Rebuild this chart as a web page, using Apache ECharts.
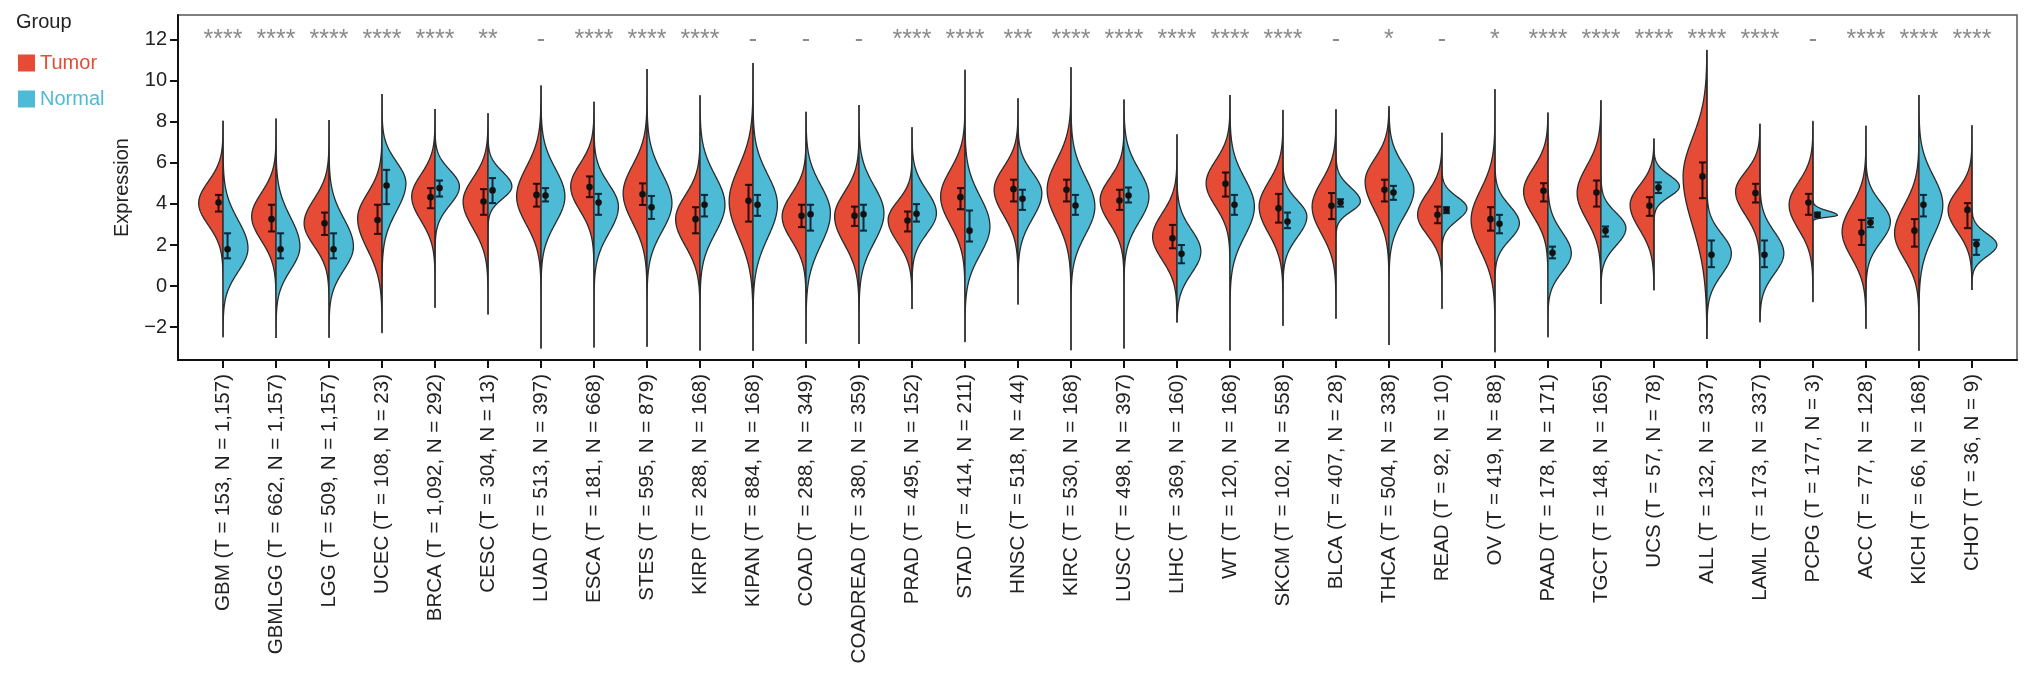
<!DOCTYPE html>
<html>
<head>
<meta charset="utf-8">
<title>Expression by cancer type</title>
<script src="https://cdn.jsdelivr.net/npm/echarts@6/dist/echarts.min.js"></script>
<style>
    html, body { margin: 0; padding: 0; background: #fff; }
    #main { width: 2032px; height: 682px; }
</style>
</head>
<body>
<div id="main"></div>
<script>
// 类别与显著性
var categories = ["GBM (T = 153, N = 1,157)", "GBMLGG (T = 662, N = 1,157)", "LGG (T = 509, N = 1,157)", "UCEC (T = 108, N = 23)",
    "BRCA (T = 1,092, N = 292)", "CESC (T = 304, N = 13)", "LUAD (T = 513, N = 397)", "ESCA (T = 181, N = 668)",
    "STES (T = 595, N = 879)", "KIRP (T = 288, N = 168)", "KIPAN (T = 884, N = 168)", "COAD (T = 288, N = 349)",
    "COADREAD (T = 380, N = 359)", "PRAD (T = 495, N = 152)", "STAD (T = 414, N = 211)", "HNSC (T = 518, N = 44)",
    "KIRC (T = 530, N = 168)", "LUSC (T = 498, N = 397)", "LIHC (T = 369, N = 160)", "WT (T = 120, N = 168)",
    "SKCM (T = 102, N = 558)", "BLCA (T = 407, N = 28)", "THCA (T = 504, N = 338)", "READ (T = 92, N = 10)",
    "OV (T = 419, N = 88)", "PAAD (T = 178, N = 171)", "TGCT (T = 148, N = 165)", "UCS (T = 57, N = 78)",
    "ALL (T = 132, N = 337)", "LAML (T = 173, N = 337)", "PCPG (T = 177, N = 3)", "ACC (T = 77, N = 128)",
    "KICH (T = 66, N = 168)", "CHOT (T = 36, N = 9)"];
var sigLabels = ["****", "****", "****", "****", "****", "**", "-", "****", "****", "****", "-", "-", "-", "****", "****", "***",
    "****", "****", "****", "****", "****", "-", "*", "-", "*", "****", "****", "****", "****", "****", "-", "****", "****", "****"];
var yTicks = [-2, 0, 2, 4, 6, 8, 10, 12];

// 均值和误差线
var tumorMean = [4.07, 3.26, 3.06, 3.22, 4.33, 4.12, 4.44, 4.82, 4.47, 3.26, 4.15, 3.42, 3.42, 3.19, 4.33, 4.72, 4.69, 4.17, 2.33, 4.98, 3.79, 3.91, 4.69, 3.47, 3.26, 4.64, 4.56, 3.91, 5.34, 4.53, 4.07, 2.61, 2.70, 3.71];
var tumorLow = [3.63, 2.66, 2.49, 2.54, 3.79, 3.47, 3.87, 4.33, 3.95, 2.57, 3.14, 2.87, 2.93, 2.66, 3.74, 4.12, 4.12, 3.71, 1.84, 4.36, 3.09, 3.26, 4.12, 3.06, 2.70, 4.12, 3.87, 3.42, 4.28, 4.07, 3.47, 2.00, 1.92, 2.82];
var tumorHigh = [4.44, 3.96, 3.58, 3.96, 4.77, 4.72, 4.98, 5.34, 5.00, 3.84, 4.93, 3.96, 3.87, 3.63, 4.77, 5.18, 5.18, 4.69, 2.98, 5.53, 4.49, 4.53, 5.18, 3.87, 3.84, 5.01, 5.14, 4.33, 6.02, 4.98, 4.49, 3.22, 3.26, 4.04];
var normalMean = [1.79, 1.79, 1.79, 4.90, 4.77, 4.66, 4.41, 4.07, 3.84, 3.96, 3.96, 3.50, 3.50, 3.52, 2.70, 4.25, 3.92, 4.41, 1.57, 3.96, 3.14, 4.07, 4.56, 3.71, 3.03, 1.62, 2.70, 4.80, 1.52, 1.52, 3.47, 3.09, 3.96, 2.04];
var normalLow = [1.35, 1.35, 1.35, 3.99, 4.36, 4.04, 4.12, 3.47, 3.27, 3.39, 3.42, 2.70, 2.70, 3.14, 2.17, 3.71, 3.47, 4.07, 1.11, 3.47, 2.82, 3.87, 4.20, 3.55, 2.57, 1.35, 2.41, 4.53, 0.92, 0.92, 3.35, 2.87, 3.39, 1.52];
var normalHigh = [2.57, 2.57, 2.57, 5.66, 5.14, 5.26, 4.77, 4.49, 4.39, 4.44, 4.44, 3.96, 3.96, 3.99, 3.68, 4.69, 4.44, 4.80, 2.00, 4.44, 3.58, 4.23, 4.88, 3.84, 3.47, 1.92, 2.90, 5.05, 2.22, 2.22, 3.58, 3.30, 4.44, 2.25];

// 小提琴形状：峰值位置、半宽、下/上展宽，以及整体范围
var tumorPeak = [4.04, 3.39, 3.06, 3.30, 4.36, 4.12, 4.36, 4.85, 4.52, 3.26, 4.12, 3.39, 3.39, 3.22, 4.36, 4.69, 4.69, 4.20, 2.41, 5.01, 3.87, 3.87, 5.09, 3.47, 3.22, 4.61, 4.53, 3.96, 5.34, 4.61, 3.96, 2.65, 2.57, 3.71];
var tumorWidth = [0.46, 0.46, 0.47, 0.46, 0.44, 0.47, 0.46, 0.44, 0.45, 0.46, 0.45, 0.45, 0.46, 0.45, 0.46, 0.45, 0.45, 0.45, 0.46, 0.45, 0.45, 0.45, 0.45, 0.46, 0.45, 0.46, 0.45, 0.45, 0.45, 0.46, 0.45, 0.45, 0.46, 0.45];
var tumorSdLow = [1.07, 1.17, 1.10, 1.50, 1.17, 1.30, 1.36, 1.17, 1.43, 1.30, 1.70, 1.17, 1.34, 1.10, 1.36, 1.24, 1.50, 1.14, 1.14, 1.14, 1.30, 1.33, 1.40, 0.98, 1.50, 1.20, 1.30, 1.20, 2.40, 1.14, 1.20, 1.27, 1.24, 1.07];
var tumorSdHigh = [1.05, 1.14, 1.17, 1.20, 1.07, 1.14, 1.43, 1.10, 1.36, 1.16, 1.66, 1.10, 1.17, 0.91, 1.30, 1.10, 1.43, 1.04, 1.14, 1.10, 1.20, 1.24, 1.10, 1.07, 1.46, 1.14, 1.30, 0.94, 1.88, 0.94, 1.10, 1.27, 1.37, 0.98];
var normalPeak = [1.84, 1.92, 1.92, 5.01, 4.85, 4.85, 4.36, 3.87, 4.03, 3.96, 3.96, 3.55, 3.55, 3.55, 2.90, 4.53, 3.87, 4.36, 1.68, 3.87, 3.39, 4.12, 4.69, 3.79, 3.06, 1.59, 2.82, 4.85, 1.60, 1.60, 3.45, 3.14, 3.96, 2.00];
var normalWidth = [0.47, 0.45, 0.46, 0.45, 0.46, 0.45, 0.45, 0.46, 0.47, 0.47, 0.46, 0.46, 0.47, 0.46, 0.47, 0.45, 0.45, 0.47, 0.45, 0.46, 0.45, 0.46, 0.47, 0.47, 0.46, 0.44, 0.47, 0.48, 0.46, 0.45, 0.46, 0.46, 0.45, 0.47];
var normalSdLow = [1.14, 1.14, 1.14, 1.36, 0.91, 0.60, 1.30, 1.30, 1.36, 1.40, 1.60, 1.56, 1.43, 1.00, 1.37, 1.25, 1.36, 1.24, 1.07, 1.43, 1.00, 0.50, 1.30, 0.60, 0.81, 0.91, 0.85, 0.50, 1.04, 1.00, 0.09, 1.00, 1.53, 0.55];
var normalSdHigh = [1.37, 1.43, 1.37, 1.04, 0.80, 0.72, 1.35, 1.10, 1.46, 1.43, 1.46, 1.36, 1.33, 1.10, 1.46, 1.00, 1.43, 1.30, 1.07, 1.37, 0.78, 0.68, 1.17, 0.56, 0.85, 1.04, 0.75, 0.55, 0.94, 1.04, 0.22, 0.94, 1.40, 0.55];
var violinMin = [-2.47, -2.50, -2.50, -2.27, -1.04, -1.36, -3.04, -2.99, -2.95, -3.12, -3.12, -2.79, -2.79, -1.09, -2.71, -0.87, -3.12, -3.04, -1.74, -3.12, -1.90, -1.57, -2.87, -1.09, -3.20, -2.47, -0.84, -0.19, -2.55, -1.74, -0.76, -2.06, -3.12, -0.16];
var violinMax = [8.02, 8.13, 8.05, 9.32, 8.59, 8.38, 9.73, 8.95, 10.54, 9.27, 10.83, 8.46, 8.78, 7.70, 10.51, 9.11, 10.62, 9.05, 7.37, 9.27, 8.56, 8.59, 8.72, 7.45, 9.57, 8.43, 9.03, 7.16, 11.48, 7.89, 8.02, 7.78, 9.27, 7.81];

var tumorColor = "#E64B35";
var normalColor = "#4DBBD5";
var fontName = "Liberation Sans";

var xTicks = categories.map(function (c, i) { return i + 1; });

function violinData(peak, width, sdLow, sdHigh) {
    return categories.map(function (c, i) {
        return [i + 1, peak[i], width[i], sdLow[i], sdHigh[i], violinMin[i], violinMax[i]];
    });
}
function barData(mean, low, high) {
    return categories.map(function (c, i) {
        return [i + 1, mean[i], low[i], high[i]];
    });
}

// 半边小提琴，side=-1 左侧，side=1 右侧
function halfViolin(side, color) {
    return function (params, api) {
        var x = api.value(0), m = api.value(1), w = api.value(2);
        var sl = api.value(3), sh = api.value(4), lo = api.value(5), hi = api.value(6);
        var pts = [api.coord([x, lo])];
        var n = 240;
        for (var k = 0; k <= n; k++) {
            var y = lo + (hi - lo) * k / n;
            var s = y < m ? sl : sh;
            var d = w * Math.exp(-0.5 * Math.pow((y - m) / s, 2));
            pts.push(api.coord([x + side * d, y]));
        }
        pts.push(api.coord([x, hi]));
        return {
            type: "polygon",
            shape: {points: pts},
            style: {fill: color, stroke: "#2b2b2b", lineWidth: 1.3}
        };
    };
}

// 均值点和误差线
function errorBar(side, color) {
    return function (params, api) {
        var x = api.value(0) + side * 0.085;
        var pm = api.coord([x, api.value(1)]);
        var pl = api.coord([x, api.value(2)]);
        var ph = api.coord([x, api.value(3)]);
        var st = {stroke: color, lineWidth: 2};
        return {
            type: "group",
            children: [
                {type: "line", shape: {x1: pl[0], y1: pl[1], x2: ph[0], y2: ph[1]}, style: st},
                {type: "line", shape: {x1: pl[0] - 3.5, y1: pl[1], x2: pl[0] + 3.5, y2: pl[1]}, style: st},
                {type: "line", shape: {x1: ph[0] - 3.5, y1: ph[1], x2: ph[0] + 3.5, y2: ph[1]}, style: st},
                {type: "circle", shape: {cx: pm[0], cy: pm[1], r: 3.3}, style: {fill: "#111"}}
            ]
        };
    };
}

var myChart = echarts.init(document.getElementById("main"));
var option = {
    animation: false,
    title: {
        text: "Group",
        left: 11,
        top: 7,
        textStyle: {fontSize: 20, fontWeight: "normal", color: "#222", fontFamily: fontName}
    },
    legend: {
        orient: "vertical",
        left: 13,
        top: 48,
        icon: "rect",
        itemWidth: 17,
        itemHeight: 17,
        itemGap: 16,
        textStyle: {fontSize: 20, fontFamily: fontName},
        data: [
            {name: "Tumor", textStyle: {color: tumorColor}},
            {name: "Normal", textStyle: {color: normalColor}}
        ]
    },
    grid: {
        left: 178,
        right: 15,
        top: 15,
        bottom: 322,
        show: true,
        borderColor: "#555",
        borderWidth: 1.5
    },
    xAxis: {
        type: "value",
        min: 0.15,
        max: 34.85,
        splitLine: {show: false},
        axisLine: {show: true, onZero: false, lineStyle: {color: "#111", width: 2}},
        axisTick: {show: true, customValues: xTicks, length: 8, lineStyle: {color: "#111", width: 2}},
        axisLabel: {
            customValues: xTicks,
            rotate: 90,
            margin: 14,
            fontSize: 20.5,
            color: "#222",
            fontFamily: fontName,
            formatter: function (v) {
                return categories[Math.round(v) - 1] || "";
            }
        }
    },
    yAxis: {
        type: "value",
        min: -3.6,
        max: 13.2,
        name: "Expression",
        nameLocation: "middle",
        nameGap: 46,
        nameTextStyle: {fontSize: 20, color: "#222", fontFamily: fontName},
        splitLine: {show: false},
        axisLine: {show: true, onZero: false, lineStyle: {color: "#111", width: 2}},
        axisTick: {show: true, customValues: yTicks, length: 8, lineStyle: {color: "#111", width: 2}},
        axisLabel: {
            customValues: yTicks,
            margin: 11,
            fontSize: 20,
            color: "#222",
            fontFamily: fontName,
            formatter: function (v) {
                return v < 0 ? "\u2212" + Math.abs(v) : String(v);
            }
        }
    },
    series: [
        {
            name: "Tumor",
            type: "custom",
            itemStyle: {color: tumorColor},
            renderItem: halfViolin(-1, tumorColor),
            data: violinData(tumorPeak, tumorWidth, tumorSdLow, tumorSdHigh),
            z: 2
        },
        {
            name: "Normal",
            type: "custom",
            itemStyle: {color: normalColor},
            renderItem: halfViolin(1, normalColor),
            data: violinData(normalPeak, normalWidth, normalSdLow, normalSdHigh),
            z: 2
        },
        {
            name: "TumorMean",
            type: "custom",
            renderItem: errorBar(-1, "#2e0904"),
            data: barData(tumorMean, tumorLow, tumorHigh),
            z: 3
        },
        {
            name: "NormalMean",
            type: "custom",
            renderItem: errorBar(1, "#07283a"),
            data: barData(normalMean, normalLow, normalHigh),
            z: 3
        },
        {
            name: "Sig",
            type: "custom",
            renderItem: function (params, api) {
                var p = api.coord([api.value(0), 11.98]);
                return {
                    type: "text",
                    x: p[0],
                    y: p[1],
                    style: {
                        text: sigLabels[params.dataIndex],
                        align: "center",
                        verticalAlign: "middle",
                        fontSize: 25,
                        fontFamily: fontName,
                        fill: "#8a8a8a"
                    }
                };
            },
            data: xTicks.map(function (v) { return [v]; }),
            z: 3
        }
    ]
};
myChart.setOption(option);
</script>
</body>
</html>
